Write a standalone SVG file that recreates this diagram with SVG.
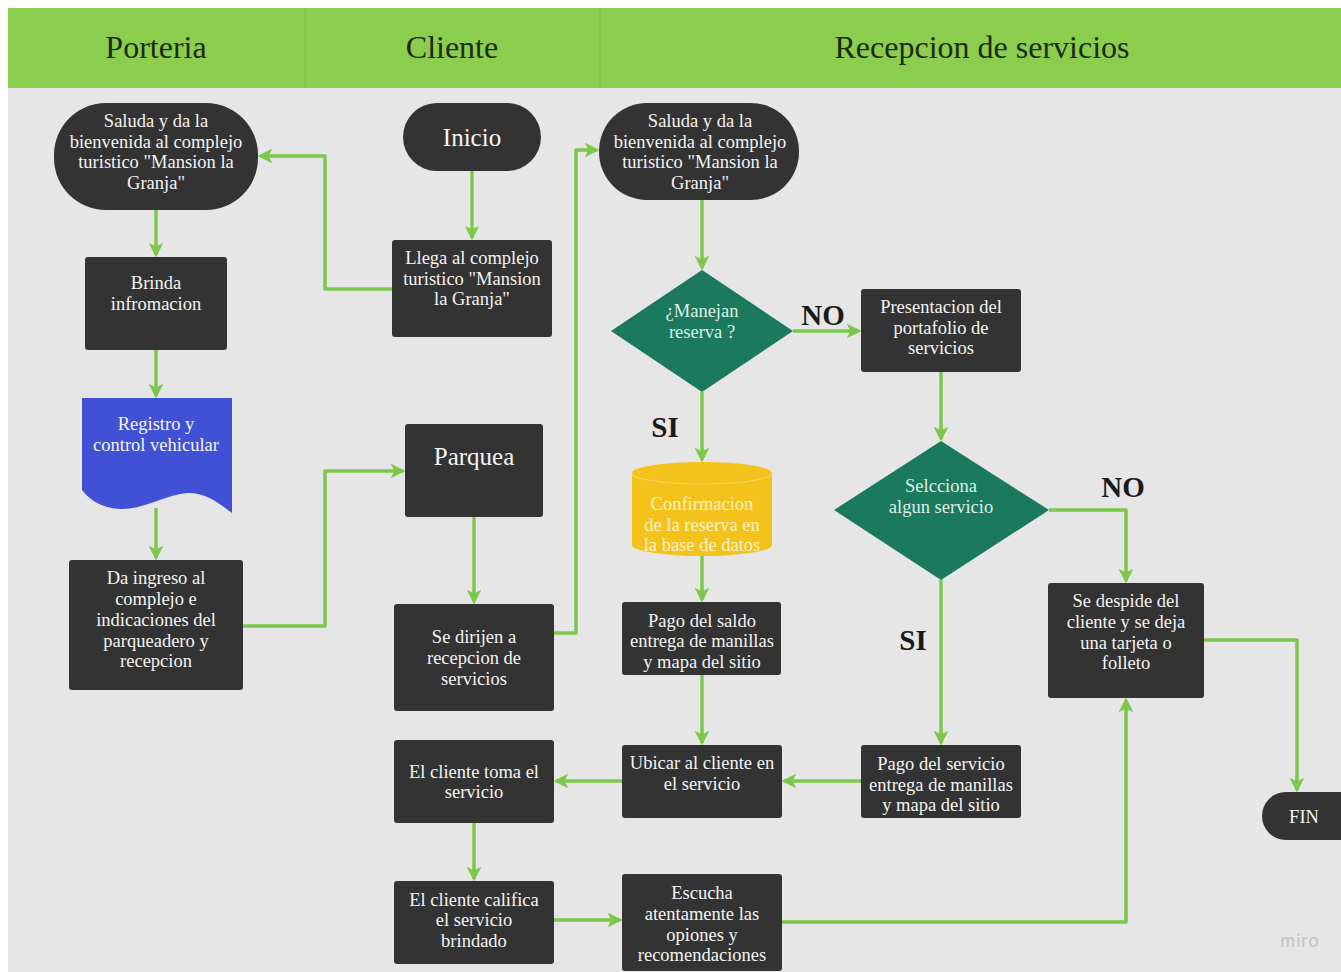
<svg xmlns="http://www.w3.org/2000/svg" width="1341" height="972" viewBox="0 0 1341 972">
  <style>
    .node { fill: #333333; }
    .t { font-family: "Liberation Serif", "Times New Roman", serif; font-size: 18.5px; fill: #f4f4f4; text-anchor: middle; }
    .big { font-size: 25px; }
    .lane { font-family: "Liberation Serif", "Times New Roman", serif; font-size: 32px; fill: #1d2a12; text-anchor: middle; }
    .lbl { font-family: "Liberation Serif", "Times New Roman", serif; font-size: 29px; font-weight: bold; fill: #1a1a1a; text-anchor: middle; }
    .dec { fill: #1b7a5d; }
    .dt { fill: #dfeee6; }
    .yt { fill: #fff2c2; }
    .conn path { fill: none; stroke: #7cc84a; stroke-width: 3.5; stroke-linejoin: round; marker-end: url(#ah); }
  </style>
  <defs>
    <marker id="ah" viewBox="0 0 12 12" refX="10" refY="6" markerWidth="4.2" markerHeight="4.2" orient="auto" markerUnits="strokeWidth">
      <path d="M0,0 L12,6 L0,12 L3,6 Z" fill="#7cc84a"/>
    </marker>
  </defs>

  <!-- page -->
  <rect x="0" y="0" width="1341" height="972" fill="#ffffff"/>
  <rect x="8" y="88" width="1333" height="884" fill="#e6e6e6"/>

  <!-- lane headers -->
  <g id="header">
    <rect x="8" y="8" width="1333" height="80" fill="#8bcd4d"/>
    <line x1="305" y1="8" x2="305" y2="88" stroke="#84c446" stroke-width="1.5"/>
    <line x1="600" y1="8" x2="600" y2="88" stroke="#84c446" stroke-width="1.5"/>
    <text class="lane" x="156" y="58">Porteria</text>
    <text class="lane" x="452" y="58">Cliente</text>
    <text class="lane" x="982" y="58">Recepcion de servicios</text>
  </g>

  <!-- connectors -->
  <g id="connectors" class="conn">
    <path d="M472,171 V238"/>
    <path d="M392,289 H325 V156 H260"/>
    <path d="M156,210 V255"/>
    <path d="M156,350 V396"/>
    <path d="M156,508 V558"/>
    <path d="M243,626 H325 V471 H403"/>
    <path d="M474,517 V602"/>
    <path d="M554,633 H576 V150 H597"/>
    <path d="M702,200 V268"/>
    <path d="M793,331 H859"/>
    <path d="M702,392 V460"/>
    <path d="M702,556 V600"/>
    <path d="M702,675 V743"/>
    <path d="M941,372 V439"/>
    <path d="M1049,510 H1126 V581"/>
    <path d="M941,580 V743"/>
    <path d="M861,781 H784"/>
    <path d="M622,781 H556"/>
    <path d="M474,823 V879"/>
    <path d="M554,920 H620"/>
    <path d="M782,922 H1126 V700"/>
    <path d="M1204,640 H1297 V790"/>
  </g>

  <!-- Porteria lane -->
  <g id="porteria-saluda">
    <rect class="node" x="54" y="103" width="204" height="107" rx="52"/>
    <text class="t" x="156" y="127">Saluda y da la</text>
    <text class="t" x="156" y="148">bienvenida al complejo</text>
    <text class="t" x="156" y="168">turistico "Mansion la</text>
    <text class="t" x="156" y="189">Granja"</text>
  </g>
  <g id="brinda">
    <rect class="node" x="85" y="257" width="142" height="93" rx="3"/>
    <text class="t" x="156" y="289">Brinda</text>
    <text class="t" x="156" y="310">infromacion</text>
  </g>
  <g id="registro">
    <path d="M82,398 H232 V513 C215,500 200,490 180,494 C160,498 140,510 120,509 C100,508 88,498 82,490 Z" fill="#4051d6"/>
    <text class="t" x="156" y="430">Registro y</text>
    <text class="t" x="156" y="451">control vehicular</text>
  </g>
  <g id="da-ingreso">
    <rect class="node" x="69" y="560" width="174" height="130" rx="3"/>
    <text class="t" x="156" y="584">Da ingreso al</text>
    <text class="t" x="156" y="605">complejo e</text>
    <text class="t" x="156" y="626">indicaciones del</text>
    <text class="t" x="156" y="647">parqueadero y</text>
    <text class="t" x="156" y="667">recepcion</text>
  </g>

  <!-- Cliente lane -->
  <g id="inicio">
    <rect class="node" x="403" y="103" width="138" height="68" rx="34"/>
    <text class="t big" x="472" y="146">Inicio</text>
  </g>
  <g id="llega">
    <rect class="node" x="392" y="240" width="160" height="97" rx="3"/>
    <text class="t" x="472" y="264">Llega al complejo</text>
    <text class="t" x="472" y="285">turistico "Mansion</text>
    <text class="t" x="472" y="305">la Granja"</text>
  </g>
  <g id="parquea">
    <rect class="node" x="405" y="424" width="138" height="93" rx="3"/>
    <text class="t big" x="474" y="465">Parquea</text>
  </g>
  <g id="se-dirijen">
    <rect class="node" x="394" y="604" width="160" height="107" rx="3"/>
    <text class="t" x="474" y="643">Se dirijen a</text>
    <text class="t" x="474" y="664">recepcion de</text>
    <text class="t" x="474" y="685">servicios</text>
  </g>
  <g id="toma">
    <rect class="node" x="394" y="740" width="160" height="83" rx="3"/>
    <text class="t" x="474" y="778">El cliente toma el</text>
    <text class="t" x="474" y="798">servicio</text>
  </g>
  <g id="califica">
    <rect class="node" x="394" y="881" width="160" height="83" rx="3"/>
    <text class="t" x="474" y="906">El cliente califica</text>
    <text class="t" x="474" y="926">el servicio</text>
    <text class="t" x="474" y="947">brindado</text>
  </g>

  <!-- Recepcion de servicios lane -->
  <g id="recepcion-saluda">
    <rect class="node" x="599" y="103" width="200" height="97" rx="48"/>
    <text class="t" x="700" y="127">Saluda y da la</text>
    <text class="t" x="700" y="148">bienvenida al complejo</text>
    <text class="t" x="700" y="168">turistico "Mansion la</text>
    <text class="t" x="700" y="189">Granja"</text>
  </g>
  <g id="manejan-reserva">
    <polygon class="dec" points="702,270 793,331 702,392 611,331"/>
    <text class="t dt" x="702" y="317">¿Manejan</text>
    <text class="t dt" x="702" y="338">reserva ?</text>
  </g>
  <text class="lbl" x="823" y="325">NO</text>
  <text class="lbl" x="665" y="437">SI</text>
  <g id="presentacion">
    <rect class="node" x="861" y="289" width="160" height="83" rx="3"/>
    <text class="t" x="941" y="313">Presentacion del</text>
    <text class="t" x="941" y="334">portafolio de</text>
    <text class="t" x="941" y="354">servicios</text>
  </g>
  <g id="confirmacion">
    <path d="M632,473 A70,11 0 0 1 772,473 V545 A70,11 0 0 1 632,545 Z" fill="#f4c31b"/>
    <path d="M632,473 A70,11 0 0 0 772,473" fill="none" stroke="#f8d665" stroke-width="1.2"/>
    <text class="t yt" x="702" y="510">Confirmacion</text>
    <text class="t yt" x="702" y="531">de la reserva en</text>
    <text class="t yt" x="702" y="551">la base de datos</text>
  </g>
  <g id="pago-saldo">
    <rect class="node" x="622" y="602" width="159" height="73" rx="3"/>
    <text class="t" x="702" y="627">Pago  del saldo</text>
    <text class="t" x="702" y="647">entrega de manillas</text>
    <text class="t" x="702" y="668">y mapa del sitio</text>
  </g>
  <g id="selecciona">
    <polygon class="dec" points="941,441 1049,510 941,580 834,510"/>
    <text class="t dt" x="941" y="492">Selcciona</text>
    <text class="t dt" x="941" y="513">algun servicio</text>
  </g>
  <text class="lbl" x="1123" y="497">NO</text>
  <text class="lbl" x="913" y="650">SI</text>
  <g id="se-despide">
    <rect class="node" x="1048" y="583" width="156" height="115" rx="3"/>
    <text class="t" x="1126" y="607">Se despide del</text>
    <text class="t" x="1126" y="628">cliente y se deja</text>
    <text class="t" x="1126" y="649">una tarjeta  o</text>
    <text class="t" x="1126" y="669">folleto</text>
  </g>
  <g id="pago-servicio">
    <rect class="node" x="861" y="745" width="160" height="73" rx="3"/>
    <text class="t" x="941" y="770">Pago  del servicio</text>
    <text class="t" x="941" y="791">entrega de manillas</text>
    <text class="t" x="941" y="811">y mapa del sitio</text>
  </g>
  <g id="ubicar">
    <rect class="node" x="622" y="745" width="160" height="73" rx="3"/>
    <text class="t" x="702" y="769">Ubicar al cliente en</text>
    <text class="t" x="702" y="790">el servicio</text>
  </g>
  <g id="escucha">
    <rect class="node" x="622" y="874" width="160" height="97" rx="3"/>
    <text class="t" x="702" y="899">Escucha</text>
    <text class="t" x="702" y="920">atentamente las</text>
    <text class="t" x="702" y="941">opiones y</text>
    <text class="t" x="702" y="961">recomendaciones</text>
  </g>
  <g id="fin">
    <rect class="node" x="1262" y="792" width="110" height="48" rx="24"/>
    <text class="t" x="1304" y="823">FIN</text>
  </g>

  <text x="1300" y="947" font-family="Inter, 'Liberation Sans', sans-serif" font-size="17" fill="#c2c2c2" text-anchor="middle" letter-spacing="1">miro</text>
</svg>
